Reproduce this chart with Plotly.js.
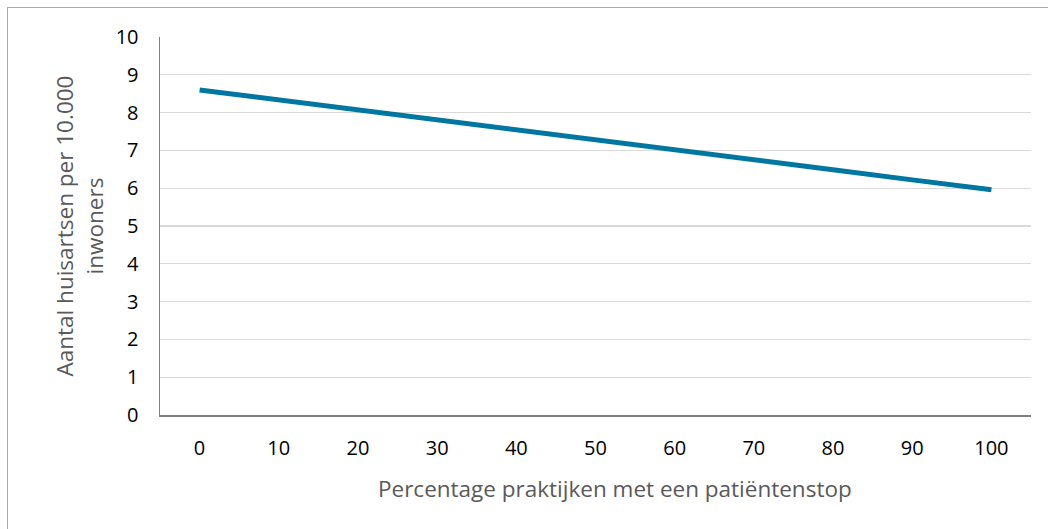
<!DOCTYPE html>
<html>
<head>
<meta charset="utf-8">
<script src="https://cdn.plot.ly/plotly-3.0.1.min.js"></script>
<style>
html,body{margin:0;padding:0;background:#fff;}
#wrap{position:relative;width:1048px;height:529px;overflow:hidden;}
#chart{width:1048px;height:529px;}
#frame{position:absolute;left:7px;top:7px;width:1100px;height:600px;border:1px solid #ababab;pointer-events:none;}
</style>
</head>
<body>
<div id="wrap"><div id="chart"></div><div id="frame"></div></div>
<script>
const categories = ["0","10","20","30","40","50","60","70","80","90","100"];
const huisartsen = [8.6, 8.34, 8.07, 7.81, 7.54, 7.28, 7.02, 6.75, 6.49, 6.22, 5.96];
const yTicks = [0,1,2,3,4,5,6,7,8,9,10];
const xTitle = "Percentage praktijken met een patiëntenstop";
const yTitle = "Aantal huisartsen per 10.000<br>inwoners";

const font = "Open Sans, Liberation Sans, sans-serif";
Plotly.newPlot("chart", [{
  x: categories,
  y: huisartsen,
  type: "scatter",
  mode: "lines",
  line: {color: "#0077A0", width: 5},
  hoverinfo: "skip"
}], {
  width: 1048, height: 529,
  margin: {l: 160, r: 17, t: 37, b: 114},
  paper_bgcolor: "rgba(0,0,0,0)",
  plot_bgcolor: "#fff",
  showlegend: false,
  font: {family: font, color: "#000"},
  xaxis: {
    type: "category",
    range: [-0.5, 10.5],
    showgrid: false,
    showline: true, linecolor: "#7f7f7f", linewidth: 1.5,
    ticks: "",
    ticklabelstandoff: 14,
    tickfont: {size: 20, color: "#000"},
    fixedrange: true
  },
  yaxis: {
    range: [0, 10],
    tickvals: yTicks,
    showgrid: true, gridcolor: "#d9d9d9", gridwidth: 1.2,
    zeroline: false,
    showline: true, linecolor: "#7f7f7f", linewidth: 1.5,
    ticks: "",
    ticklabelstandoff: 16,
    tickfont: {size: 20, color: "#000"},
    title: {text: yTitle, font: {size: 22.5, color: "#595959"}, standoff: 6},
    fixedrange: true
  },
  annotations: [{
    text: xTitle, xref: "paper", yref: "paper",
    x: 0.522, y: -0.195, xanchor: "center", yanchor: "middle",
    showarrow: false, font: {size: 22.5, color: "#595959"}
  }]
}, {staticPlot: true});
</script>
</body>
</html>
